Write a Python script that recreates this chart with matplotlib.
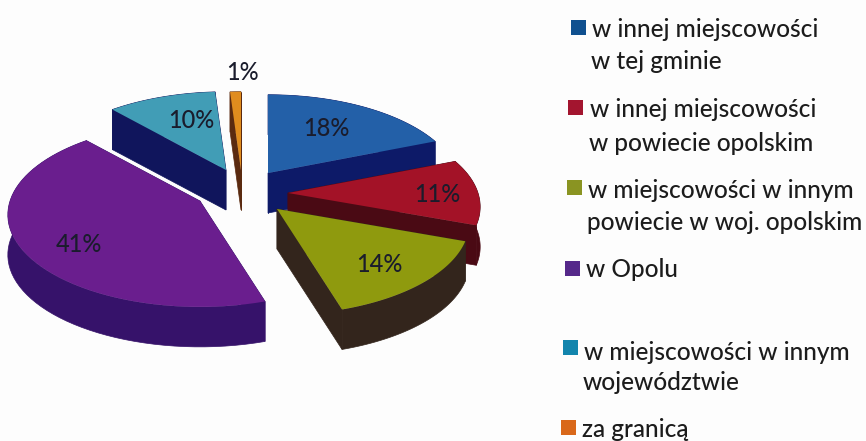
import numpy as np
import matplotlib
matplotlib.use("Agg")
import matplotlib.pyplot as plt
from matplotlib.patches import Polygon, Rectangle

# udzial w procentach, tak jak na etykietach
shares = [18, 11, 14, 41, 10, 1]
share_labels = ["18%", "11%", "14%", "41%", "10%", "1%"]
legend_lines = [
    ["w innej miejscowości", "w tej gminie"],
    ["w innej miejscowości", "w powiecie opolskim"],
    ["w miejscowości w innym", "powiecie w woj. opolskim"],
    ["w Opolu"],
    ["w miejscowości w innym", "województwie"],
    ["za granicą"],
]

top_colors = ["#2360a8", "#a31227", "#8f9a0e", "#6a1e8e", "#419db6", "#e08c1e"]
wall_colors = ["#0d1a68", "#4a0a14", "#33251c", "#36126a", "#10155c", "#5a2a10"]
key_colors = ["#10508f", "#a3152f", "#8a9422", "#55288a", "#1385ad", "#d9681a"]

# wierzcholki wycinkow po rozsunieciu, piksele
apex = [(268, 173), (288, 193), (277, 209), (200, 201), (226, 170), (241, 170)]
label_pos = [(326, 128), (437, 194), (379, 264), (79, 244), (191, 120), (242, 73)]
key_x = [571, 568, 567, 565, 563, 561]
key_y = [20, 100, 180, 261, 340, 420]
text_x = [592, 590, 588, 586, 584, 582]
baselines = [[37, 69], [117, 151], [198, 230], [277], [360, 390], [437]]
draw_order = [4, 5, 0, 1, 3, 2]

R = 190
RY = 90
PERSP = 0.15
DEPTH = 40
plt.rcParams["font.family"] = ["Lato", "DejaVu Sans"]

fig = plt.figure(figsize=(8.66, 4.41), dpi=100, facecolor="#fdfdfd")
ax = fig.add_axes([0, 0, 1, 1])
ax.set_xlim(0, 866)
ax.set_ylim(441, 0)
ax.axis("off")


def outline(a0, a1, cx, cy):
    t = np.radians(np.linspace(a0, a1, 60))
    u = np.sin(t)
    v = np.cos(t)
    s = 1 / (1 + PERSP * v)
    xs = cx + R * u * s
    ys = cy - RY * v * s
    return np.column_stack([xs, ys])


edges = np.r_[0, np.cumsum(shares)] * 360 / sum(shares)

for z, i in enumerate(draw_order):
    arc = outline(edges[i], edges[i + 1], *apex[i])
    c = np.array(apex[i], dtype=float)
    down = np.array([0, DEPTH])
    faces = [
        [c, arc[0], arc[0] + down, c + down],
        [c, arc[-1], arc[-1] + down, c + down],
        np.vstack([arc, (arc + down)[::-1]]),
    ]
    for face in faces:
        ax.add_patch(Polygon(face, closed=True, fc=wall_colors[i], ec=wall_colors[i],
                             lw=0.5, zorder=z * 2 + 1))
    ax.add_patch(Polygon(np.vstack([c, arc]), closed=True, fc=top_colors[i], ec="none",
                         zorder=z * 2 + 2))

for txt, pos in zip(share_labels, label_pos):
    ax.text(pos[0], pos[1], txt, fontsize=17, fontweight="medium", color="#1a1c2c",
            ha="center", va="center", zorder=30)

for i, lines in enumerate(legend_lines):
    ax.add_patch(Rectangle((key_x[i], key_y[i]), 14.5, 14.5, fc=key_colors[i], ec="none"))
    for j, line in enumerate(lines):
        ax.text(text_x[i] - j, baselines[i][j], line, fontsize=17.6, fontweight="medium",
                color="#1c1c1c", ha="left", va="baseline")

fig.savefig("out.png", dpi=100, facecolor=fig.get_facecolor())
